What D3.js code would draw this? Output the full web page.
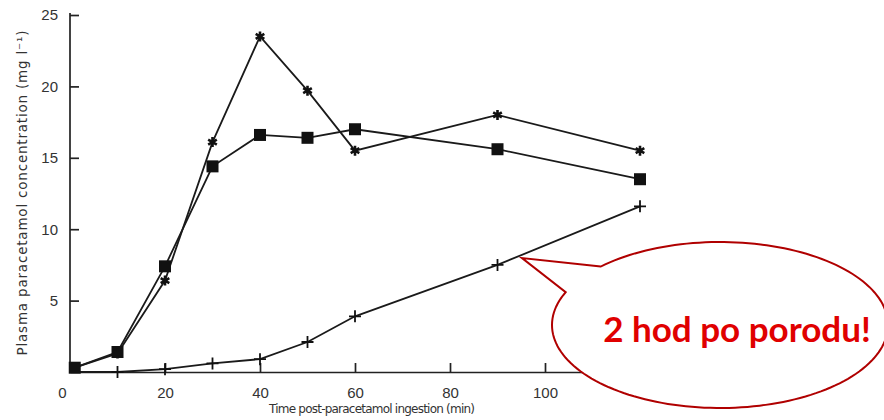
<!DOCTYPE html>
<html>
<head>
<meta charset="utf-8">
<script src="https://cdn.jsdelivr.net/npm/d3@7"></script>
<style>
  body { margin: 0; background: #fff; }
  svg { display: block; }
  .axis path, .axis line { stroke: #222; stroke-width: 1.7; }
  .axis text { font-family: "Liberation Sans", sans-serif; font-size: 15px; fill: #333; }
  .axis-label { font-family: "DejaVu Sans", sans-serif; fill: #333; }
  .series { fill: none; stroke: #1a1a1a; stroke-width: 1.8; }
</style>
</head>
<body>
<svg width="884" height="420"></svg>
<script>
var svg = d3.select('svg');

// Data (time in min, concentration in mg/l)
var times = [1, 10, 20, 30, 40, 50, 60, 90, 120];
var starValues = [0.3, 1.3, 6.4, 16.1, 23.5, 19.7, 15.5, 18.0, 15.5];
var squareValues = [0.3, 1.4, 7.4, 14.4, 16.6, 16.4, 17.0, 15.6, 13.5];
var plusValues = [0, 0, 0.2, 0.6, 0.9, 2.1, 3.9, 7.5, 11.6];
var xTicks = [0, 20, 40, 60, 80, 100];
var yTicks = [5, 10, 15, 20, 25];
var calloutText = '2 hod po porodu!';

var xScale = d3.scaleLinear().domain([0, 120]).range([70, 640]);
var yScale = d3.scaleLinear().domain([0, 25]).range([372, 15]);

function zip(vals) {
    return times.map(function(t, i) { return {t: t, v: vals[i]}; });
}

var line = d3.line()
    .x(function(d) { return xScale(d.t); })
    .y(function(d) { return yScale(d.v); });

// Axes, ticks pointing inward
var xAxis = d3.axisBottom(xScale).tickValues(xTicks).tickSize(-9).tickPadding(15)
    .tickSizeOuter(0).tickFormat(d3.format('d'));
var yAxis = d3.axisLeft(yScale).tickValues(yTicks).tickSize(-9).tickPadding(12)
    .tickSizeOuter(0);

var xg = svg.append('g').attr('class', 'x axis')
    .attr('transform', 'translate(0,' + yScale(0) + ')')
    .call(xAxis);
xg.selectAll('.tick').filter(function(d) { return d === 0; }).select('text')
    .attr('dx', -8);
xg.selectAll('.tick').filter(function(d) { return d === 0; }).select('line').remove();

svg.append('g').attr('class', 'y axis')
    .attr('transform', 'translate(' + xScale(0) + ',0)')
    .call(yAxis)
    .select('.domain').attr('d', 'M0,' + yScale(0) + 'V' + (yScale(25) - 2));

svg.append('text').attr('class', 'axis-label')
    .attr('text-anchor', 'middle')
    .attr('font-size', 13.5)
    .attr('textLength', 325).attr('lengthAdjust', 'spacing')
    .attr('transform', 'translate(27,' + 193 + ')rotate(-90)')
    .text('Plasma paracetamol concentration (mg l\u207B\u00B9)');

svg.append('text').attr('class', 'axis-label')
    .attr('text-anchor', 'middle')
    .attr('font-size', 12)
    .attr('textLength', 206).attr('lengthAdjust', 'spacing')
    .attr('x', 372).attr('y', 413)
    .text('Time post-paracetamol ingestion (min)');

// Lines
[starValues, squareValues, plusValues].forEach(function(vals) {
    svg.append('path').attr('class', 'series').attr('d', line(zip(vals)));
});

// Square markers
svg.selectAll('.sq').data(zip(squareValues)).enter()
    .append('rect').attr('class', 'sq')
    .attr('x', function(d) { return xScale(d.t) - 6; })
    .attr('y', function(d) { return yScale(d.v) - 6; })
    .attr('width', 12).attr('height', 12)
    .attr('fill', '#111');

// Asterisk markers
var star = d3.symbol().type(d3.symbolAsterisk).size(70);
svg.selectAll('.star').data(zip(starValues).slice(1)).enter()
    .append('path').attr('class', 'star')
    .attr('d', star)
    .attr('transform', function(d) { return 'translate(' + xScale(d.t) + ',' + yScale(d.v) + ')'; })
    .attr('fill', 'none').attr('stroke', '#111').attr('stroke-width', 2.6);

// Plus markers
svg.selectAll('.plus').data(zip(plusValues).slice(1)).enter()
    .append('path').attr('class', 'plus')
    .attr('d', 'M-6,0H6M0,-6V6')
    .attr('transform', function(d) { return 'translate(' + xScale(d.t) + ',' + yScale(d.v) + ')'; })
    .attr('fill', 'none').attr('stroke', '#111').attr('stroke-width', 1.8);

// Speech bubble callout
var cx = 720, cy = 325, rx = 168, ry = 83;
var tip = [522, 258];
var a1 = -2.36, a2 = -2.735; // angles of tail base on the ellipse
var path = d3.path();
path.moveTo(cx + rx * Math.cos(a1), cy + ry * Math.sin(a1));
path.lineTo(tip[0], tip[1]);
var steps = 160;
var span = 2 * Math.PI - (a1 - a2);
for (var k = 0; k <= steps; k++) {
    var ang = a2 - span * k / steps;
    path.lineTo(cx + rx * Math.cos(ang), cy + ry * Math.sin(ang));
}
path.closePath();

svg.append('path').attr('d', path.toString())
    .attr('fill', '#fff').attr('stroke', '#b00000').attr('stroke-width', 2)
    .attr('stroke-linejoin', 'miter');

svg.append('text')
    .attr('x', 737).attr('y', 342)
    .attr('text-anchor', 'middle')
    .attr('font-family', 'Lato, "Open Sans", sans-serif')
    .attr('font-weight', 'bold')
    .attr('font-size', 35)
    .attr('fill', '#e00000')
    .text(calloutText);
</script>
</body>
</html>
